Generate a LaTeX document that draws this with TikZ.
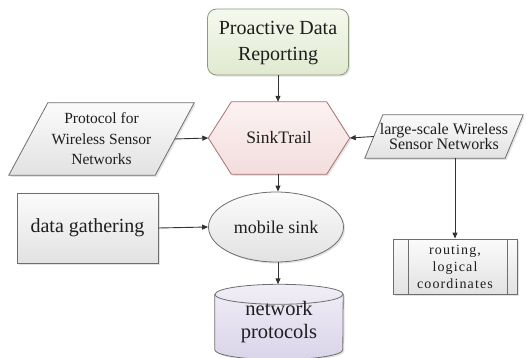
\documentclass[tikz,border=0pt]{standalone}
\usepackage{fontspec}
\setmainfont{Liberation Serif}
\newfontfamily\spacedserif[LetterSpace=8]{Liberation Serif}
\usetikzlibrary{arrows.meta,shadows,shapes.geometric}
\pgfdeclarelayer{bg}
\pgfsetlayers{bg,main}

\definecolor{ink}{HTML}{1E1E1E}
\definecolor{edgegray}{HTML}{6E6E6E}
\definecolor{pdrA}{HTML}{F6F9EE}
\definecolor{pdrB}{HTML}{E0E9D0}
\definecolor{pdrL}{HTML}{8E9A7E}
\definecolor{hexA}{HTML}{FCF2F2}
\definecolor{hexB}{HTML}{F3DDDD}
\definecolor{hexL}{HTML}{A87070}
\definecolor{grA}{HTML}{FBFBFB}
\definecolor{grB}{HTML}{E2E2E2}
\definecolor{cylA}{HTML}{F1EEF7}
\definecolor{cylB}{HTML}{DAD4E9}

\begin{document}
\begin{tikzpicture}[x=1pt,y=-1pt,
  txt/.style={text=ink, align=center, inner sep=0pt},
  frame/.style={minimum width=#1, inner sep=0pt},
  shadowed/.style={drop shadow={opacity=0.22, shadow xshift=1.6pt, shadow yshift=-1.6pt}},
  grayfill/.style={top color=grA, bottom color=grB},
  outline/.style={draw=edgegray, line width=0.8pt},
  conn/.style={draw=black!80, line width=0.9pt, -{Triangle[length=6pt,width=5pt]}}]

\useasboundingbox (0,0) rectangle (527,358);

% top: rounded box
\node[txt, frame=141pt, minimum height=66pt, rounded corners=9pt,
      draw=pdrL, line width=0.8pt, top color=pdrA, bottom color=pdrB, shadowed,
      font=\fontsize{20}{26}\selectfont, text depth=2pt] (pdr) at (278,42)
      {Proactive Data\\Reporting};

% hexagon
\node[txt, frame=141pt, minimum height=72pt, font=\fontsize{17.5}{20}\selectfont]
      (sink) at (279,138) {SinkTrail};
% left parallelogram
\node[txt, frame=185pt, minimum height=72pt, font=\fontsize{15.5}{20.5}\selectfont]
      (lp) at (101.5,139) {Protocol for\\Wireless Sensor\\Networks};
% right parallelogram
\node[txt, frame=158pt, minimum height=43pt, font=\fontsize{16}{15.5}\selectfont]
      (rp) at (444,136.5) {large-scale Wireless\\Sensor Networks};
% plain rectangle
\node[txt, frame=141pt, minimum height=70pt, outline, grayfill, shadowed,
      font=\fontsize{20}{24}\selectfont] (dg) at (87.5,228) {data gathering};
% ellipse
\node[txt, ellipse, frame=135pt, minimum height=70pt, outline, grayfill, shadowed,
      font=\fontsize{18}{22}\selectfont] (ms) at (276,227) {mobile sink};
% predefined-process box
\node[txt, frame=124pt, minimum height=55pt, outline, grayfill, shadowed,
      font=\spacedserif\fontsize{14}{17}\selectfont] (rt) at (455,266.5)
      {routing,\\logical\\coordinates};
% cylinder
\node[txt, frame=128pt, minimum height=75pt, font=\fontsize{20.5}{23.5}\selectfont]
      (np) at (279,322) {network\\protocols};

\begin{pgfonlayer}{bg}
  % hexagon outline
  \path[draw=hexL, line width=0.8pt, top color=hexA, bottom color=hexB, shadowed]
    (sink.west) -- ([xshift=23pt]sink.north west) -- ([xshift=-23pt]sink.north east)
    -- (sink.east) -- ([xshift=-23pt]sink.south east) -- ([xshift=23pt]sink.south west) -- cycle;
  % left parallelogram outline
  \path[outline, grayfill, shadowed]
    (lp.south west) -- ([xshift=39pt]lp.north west) -- (lp.north east)
    -- ([xshift=-39pt]lp.south east) -- cycle;
  % right parallelogram outline
  \path[outline, grayfill, shadowed]
    (rp.south west) -- ([xshift=18pt]rp.north west) -- (rp.north east)
    -- ([xshift=-18pt]rp.south east) -- cycle;
  % cylinder body and front rim
  \path[outline, top color=cylA, bottom color=cylB, shadowed]
    ([yshift=-10pt]np.north west) -- ([yshift=10pt]np.south west)
    arc[start angle=180, end angle=360, x radius=64pt, y radius=10pt]
    -- ([yshift=-10pt]np.north east)
    arc[start angle=0, end angle=180, x radius=64pt, y radius=10pt] -- cycle;
  \draw[outline] ([yshift=-10pt]np.north west)
    arc[start angle=180, end angle=360, x radius=64pt, y radius=10pt];
\end{pgfonlayer}

% inner bars of the predefined-process box
\draw[outline] ([xshift=16pt]rt.north west) -- ([xshift=16pt]rt.south west);
\draw[outline] ([xshift=-10pt]rt.north east) -- ([xshift=-10pt]rt.south east);

% connectors
\draw[conn] (pdr.south) -- (pdr.south |- sink.north);
\draw[conn] ([xshift=-19.5pt]lp.east) -- (sink.west);
\draw[conn] ([xshift=9pt]rp.west) -- (sink.east);
\draw[conn] (rt.north |- rp.south) -- (rt.north);
\draw[conn] (sink.south -| pdr.south) -- (ms.north -| pdr.south);
\draw[conn] (dg.east) -- (ms.west);
\draw[conn] (ms.south -| pdr.south) -- (np.north -| pdr.south);
\end{tikzpicture}
\end{document}
